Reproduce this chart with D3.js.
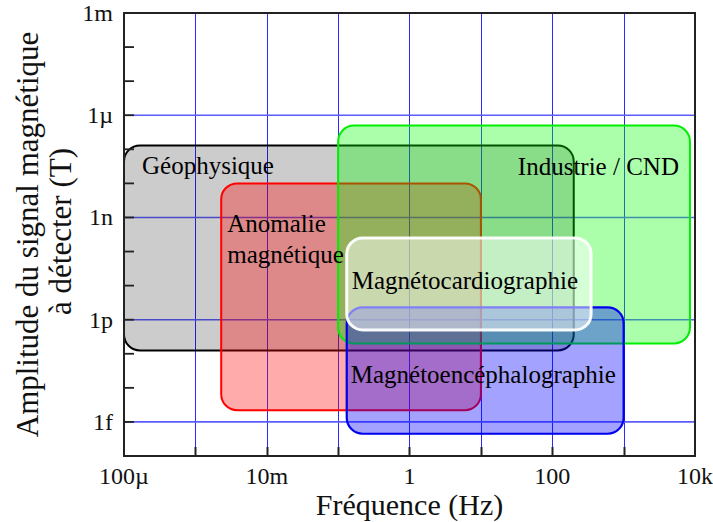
<!DOCTYPE html>
<html><head><meta charset="utf-8">
<script src="https://cdn.jsdelivr.net/npm/d3@7"></script>
<style>body{margin:0;background:#fff}svg{display:block}</style>
</head><body>
<svg id="c" width="713" height="522"></svg>
<script>
// ---- data ----
const boxNames = ["Géophysique", "Anomalie magnétique", "Industrie / CND", "Magnétoencéphalographie", "Magnétocardiographie"];
const labelLines = [["Géophysique"], ["Anomalie", "magnétique"], ["Industrie / CND"], ["Magnétoencéphalographie"], ["Magnétocardiographie"]];
const freqMin = [1e-4, 2.3e-3, 0.1, 0.132, 0.132];
const freqMax = [200, 10, 8500, 1000, 350];
const ampMin = [1.25e-13, 2.2e-15, 2e-13, 4.5e-16, 5e-13];
const ampMax = [1.3e-7, 1e-8, 5e-7, 2.3e-12, 2.5e-10];
const xTickValues = [1e-4, 1e-2, 1, 100, 1e4];
const xTickLabels = ["100µ", "10m", "1", "100", "10k"];
const yTickValues = [1e-3, 1e-6, 1e-9, 1e-12, 1e-15];
const yTickLabels = ["1m", "1µ", "1n", "1p", "1f"];
const xTitle = "Fréquence (Hz)";
const yTitle = ["Amplitude du signal magnétique", "à détecter (T)"];

// ---- styles ----
const styles = [
  {fill: "rgba(0,0,0,0.2)", stroke: "#000", sw: 2, anchor: "start", dx: 18, dy: 29},
  {fill: "rgba(255,0,0,0.33)", stroke: "#ff0000", sw: 2, anchor: "start", dx: 6, dy: 49},
  {fill: "rgba(0,255,0,0.33)", stroke: "#00ee00", sw: 2, anchor: "end", dx: -11, dy: 50},
  {fill: "rgba(0,0,255,0.36)", stroke: "#0000ee", sw: 2.2, anchor: "start", dx: 4, dy: 76},
  {fill: "rgba(255,255,255,0.5)", stroke: "rgba(255,255,255,0.95)", sw: 3, anchor: "start", dx: 5, dy: 51}
];

const svg = d3.select("#c");
const L = 124, R = 695, T = 13, B = 456;
const x = d3.scaleLog().domain([1e-4, 1e4]).range([L, R]);
const y = d3.scaleLog().domain([1e-16, 1e-3]).range([B, T]);
const serif = "'Liberation Serif', 'Times New Roman', serif";

// grid
const xDecades = d3.range(-3, 4).map(e => Math.pow(10, e));
const yDecades = d3.range(-15, -3).map(e => Math.pow(10, e));
const gridY = [1e-6, 1e-9, 1e-12, 1e-15];
svg.append("g").selectAll("line").data(xDecades).join("line")
  .attr("x1", d => Math.round(x(d)) + 0.5).attr("x2", d => Math.round(x(d)) + 0.5)
  .attr("y1", T).attr("y2", B).attr("stroke", "#2a2aff").attr("stroke-width", 1);
svg.append("g").selectAll("line").data(gridY).join("line")
  .attr("x1", L).attr("x2", R).attr("y1", d => y(d)).attr("y2", d => y(d))
  .attr("stroke", "#5c5cff").attr("stroke-width", 1.6);

// boxes
const idx = d3.range(boxNames.length);
svg.append("g").selectAll("rect").data(idx).join("rect")
  .attr("x", i => x(freqMin[i])).attr("y", i => y(ampMax[i]))
  .attr("width", i => x(freqMax[i]) - x(freqMin[i]))
  .attr("height", i => y(ampMin[i]) - y(ampMax[i]))
  .attr("rx", 16).attr("ry", 16)
  .attr("fill", i => styles[i].fill).attr("stroke", i => styles[i].stroke)
  .attr("stroke-width", i => styles[i].sw);

// frame
svg.append("rect").attr("x", L).attr("y", T).attr("width", R - L).attr("height", B - T)
  .attr("fill", "none").attr("stroke", "#222").attr("stroke-width", 2);

// ticks (inward)
svg.append("g").selectAll("line").data(xDecades).join("line")
  .attr("x1", d => Math.round(x(d)) + 0.5).attr("x2", d => Math.round(x(d)) + 0.5)
  .attr("y1", B).attr("y2", B - 9).attr("stroke", "#222").attr("stroke-width", 2);
svg.append("g").selectAll("line").data(yDecades).join("line")
  .attr("x1", L).attr("x2", L + 10).attr("y1", d => y(d)).attr("y2", d => y(d))
  .attr("stroke", "#222").attr("stroke-width", 1.8);

// tick labels
svg.append("g").selectAll("text").data(xTickValues).join("text")
  .attr("x", d => x(d)).attr("y", 484).attr("text-anchor", "middle")
  .attr("font-family", serif).attr("font-size", 24).attr("fill", "#111")
  .text((d, i) => xTickLabels[i]);
svg.append("g").selectAll("text").data(yTickValues).join("text")
  .attr("x", 113).attr("y", d => y(d)).attr("dy", "0.33em").attr("text-anchor", "end")
  .attr("font-family", serif).attr("font-size", 24).attr("fill", "#111")
  .text((d, i) => yTickLabels[i]);

// axis titles
svg.append("text").attr("x", (L + R) / 2).attr("y", 515).attr("text-anchor", "middle")
  .attr("font-family", serif).attr("font-size", 30).attr("fill", "#111").text(xTitle);
const yc = (T + B) / 2;
svg.append("text").attr("transform", `translate(38,${yc}) rotate(-90)`).attr("text-anchor", "middle")
  .attr("font-family", serif).attr("font-size", 31).attr("fill", "#111").text(yTitle[0]);
svg.append("text").attr("transform", `translate(71,${yc - 3}) rotate(-90)`).attr("text-anchor", "middle")
  .attr("font-family", serif).attr("font-size", 31).attr("fill", "#111").text(yTitle[1]);

// box labels
const lg = svg.append("g");
idx.forEach(i => {
  const s = styles[i];
  const bx = s.anchor === "end" ? x(freqMax[i]) : x(freqMin[i]);
  const by = y(ampMax[i]);
  const t = lg.append("text").attr("font-family", serif).attr("font-size", 25)
    .attr("fill", "#000").attr("text-anchor", s.anchor);
  labelLines[i].forEach((ln, k) => {
    t.append("tspan").attr("x", bx + s.dx).attr("y", by + s.dy + k * 31).text(ln);
  });
});
</script>
</body></html>
